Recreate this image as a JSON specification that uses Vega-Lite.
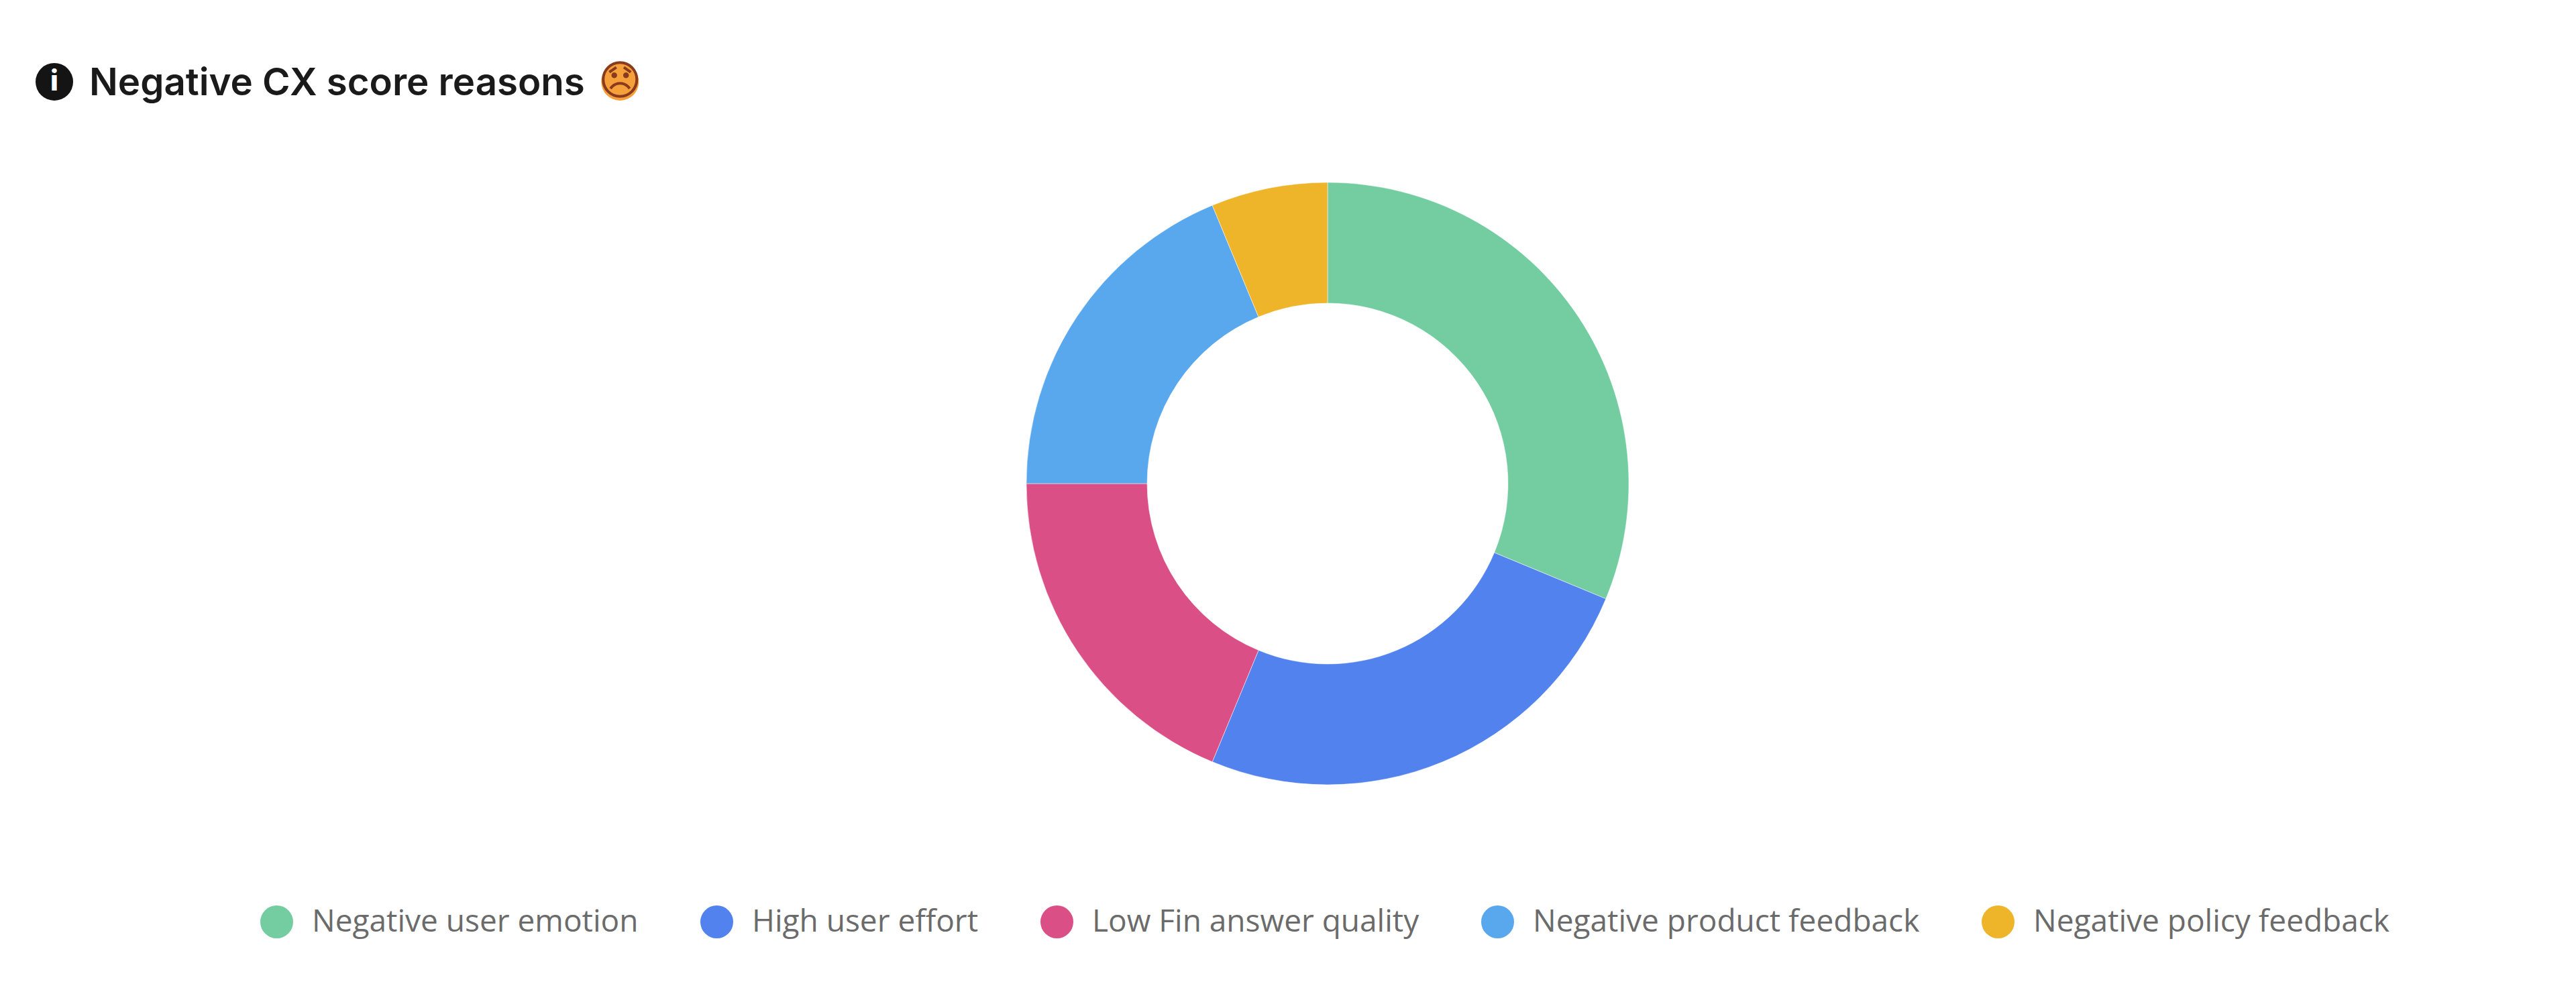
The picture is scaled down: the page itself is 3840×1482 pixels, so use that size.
{
  "$schema": "https://vega.github.io/schema/vega-lite/v6.json",
  "width": 3840,
  "height": 1482,
  "autosize": {"type": "fit", "contains": "padding"},
  "padding": {"left": 0, "right": 0, "top": 0, "bottom": 40},
  "background": "white",
  "title": {
    "text": "Negative CX score reasons",
    "anchor": "start",
    "frame": "group",
    "dx": 133,
    "dy": 153,
    "offset": 0,
    "font": "Inter",
    "fontSize": 56.4,
    "fontWeight": 600,
    "color": "#1a1a1a"
  },
  "layer": [
    {
      "data": {
        "values": [
          {"reason": "Negative user emotion", "count": 5, "rank": 1},
          {"reason": "High user effort", "count": 4, "rank": 2},
          {"reason": "Low Fin answer quality", "count": 3, "rank": 3},
          {"reason": "Negative product feedback", "count": 3, "rank": 4},
          {"reason": "Negative policy feedback", "count": 1, "rank": 5}
        ]
      },
      "mark": {"type": "arc", "innerRadius": 269, "outerRadius": 449, "stroke": "white", "strokeWidth": 0.5, "xOffset": 59},
      "encoding": {
        "theta": {"field": "count", "type": "quantitative", "stack": true},
        "order": {"field": "rank", "type": "ordinal"},
        "color": {
          "field": "reason",
          "type": "nominal",
          "scale": {
            "domain": ["Negative user emotion", "High user effort", "Low Fin answer quality", "Negative product feedback", "Negative policy feedback"],
            "range": ["#74CDA1", "#5282EE", "#D94F86", "#59A8EE", "#EEB52B"]
          },
          "legend": {
            "title": null,
            "orient": "none",
            "direction": "horizontal",
            "columns": 5,
            "gridAlign": "each",
            "legendX": 388,
            "legendY": 1350,
            "symbolType": "circle",
            "symbolSize": 2401,
            "symbolStrokeWidth": 0,
            "labelFont": "Open Sans",
            "labelFontSize": 46,
            "labelColor": "#6b6b6b",
            "labelLimit": 800,
            "labelOffset": 28,
            "columnPadding": 92
          }
        }
      }
    },
    {
      "data": {"values": [{"ornament": "info"}]},
      "mark": {"type": "point", "shape": "circle", "filled": true, "size": 3136, "color": "#141414", "opacity": 1},
      "encoding": {
        "x": {"datum": 2.11, "type": "quantitative", "scale": {"domain": [0, 100]}, "axis": null},
        "y": {"datum": 8.46, "type": "quantitative", "scale": {"domain": [100, 0]}, "axis": null}
      }
    },
    {
      "data": {"values": [{"ornament": "info"}]},
      "mark": {"type": "text", "text": "i", "font": "Inter", "fontWeight": 800, "fontSize": 42, "color": "white", "baseline": "middle", "align": "center"},
      "encoding": {
        "x": {"datum": 2.11, "type": "quantitative"},
        "y": {"datum": 8.46, "type": "quantitative"}
      }
    },
    {
      "data": {"values": [{"ornament": "face"}]},
      "mark": {"type": "point", "shape": "circle", "filled": true, "size": 3136, "color": "#F6A03C", "opacity": 1},
      "encoding": {
        "x": {"datum": 24.07, "type": "quantitative"},
        "y": {"datum": 8.46, "type": "quantitative"}
      }
    },
    {
      "data": {"values": [{"ornament": "face"}]},
      "mark": {"type": "text", "text": "😞", "font": "DejaVu Sans", "fontSize": 62, "color": "#8A3B1E", "baseline": "middle", "align": "center"},
      "encoding": {
        "x": {"datum": 24.07, "type": "quantitative"},
        "y": {"datum": 8.46, "type": "quantitative"}
      }
    }
  ],
  "config": {"view": {"stroke": null}}
}
